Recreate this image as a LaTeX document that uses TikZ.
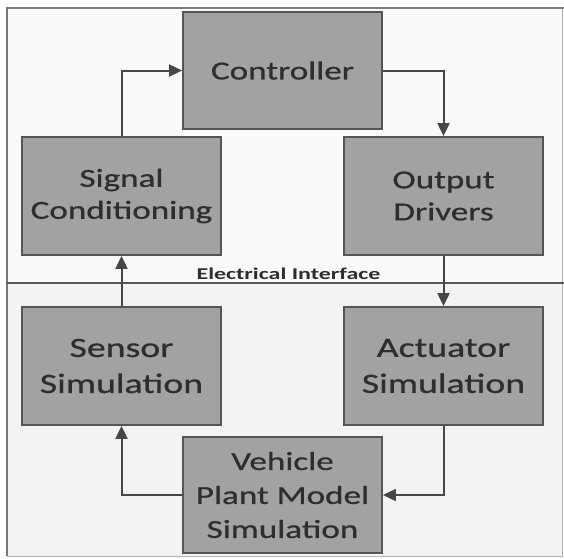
\documentclass[tikz,border=0pt]{standalone}
\usepackage{fontspec}
\usetikzlibrary{arrows.meta}
\newfontfamily\boxfont[FakeStretch=1.35,FakeBold=0.7]{Carlito}
\newfontfamily\lblfont[FakeStretch=1.45]{Carlito}
\definecolor{boxgray}{HTML}{A2A2A2}
\definecolor{edgegray}{HTML}{555555}
\definecolor{txtgray}{HTML}{2E2E2E}
\definecolor{arrgray}{HTML}{474747}
\definecolor{topbg}{HTML}{FAFAFA}
\definecolor{botbg}{HTML}{F3F3F3}
\tikzset{
  blockbox/.style={draw=edgegray, line width=1.8pt, fill=boxgray, text=txtgray,
    minimum width=199pt, minimum height=117pt, inner sep=0pt, align=center},
  upfont/.style={font=\boxfont\fontsize{26}{32}\selectfont},
  lowfont/.style={font=\boxfont\fontsize{28}{36}\selectfont},
  vehfont/.style={font=\boxfont\fontsize{26}{34}\selectfont},
  arr/.style={draw=arrgray, line width=2pt, -{Triangle[length=13pt,width=12pt]}}
}
\begin{document}
\begin{tikzpicture}[x=1pt,y=-1pt]
\useasboundingbox (0,0) rectangle (564,558);
% background panels
\fill[topbg] (7,8) rectangle (562,282);
\fill[botbg] (7,282) rectangle (562,556);
\draw[gray!60, line width=0.8pt] (562,8) -- (562,556) -- (7,556);
\draw[gray, line width=2pt] (7,8) -- (564,8);
\draw[edgegray!80, line width=2.2pt] (7,7) -- (7,556);
\draw[edgegray, line width=1.3pt] (7,283) -- (564,283);
\node[font=\lblfont\bfseries\fontsize{16.5}{18}\selectfont, text=txtgray, anchor=base] (elec) at (288.5,279) {Electrical Interface};
% blocks
\node[blockbox, upfont] (ctrl) at (282.5,70.5) {Controller};
\node[blockbox, upfont, minimum height=118pt] (sig) at (121.5,196) {Signal\\Conditioning};
\node[blockbox, upfont, minimum height=118pt] (out) at (443.5,196) {Output\\Drivers};
\node[blockbox, lowfont, minimum height=118pt] (sen) at (121.5,366) {Sensor\\Simulation};
\node[blockbox, lowfont, minimum height=118pt] (act) at (443.5,366) {Actuator\\Simulation};
\node[blockbox, vehfont, minimum height=116pt] (veh) at (282.5,495) {Vehicle\\Plant Model\\Simulation};
% connectors
\draw[arr] (sig.north) |- (ctrl.west);
\draw[arr] (ctrl.east) -| (out.north);
\draw[arr] (out.south) -- (act.north);
\draw[arr] (act.south) |- (veh.east);
\draw[arr] (veh.west) -| (sen.south);
\draw[arr] (sen.north) -- (sig.south);
\end{tikzpicture}
\end{document}
